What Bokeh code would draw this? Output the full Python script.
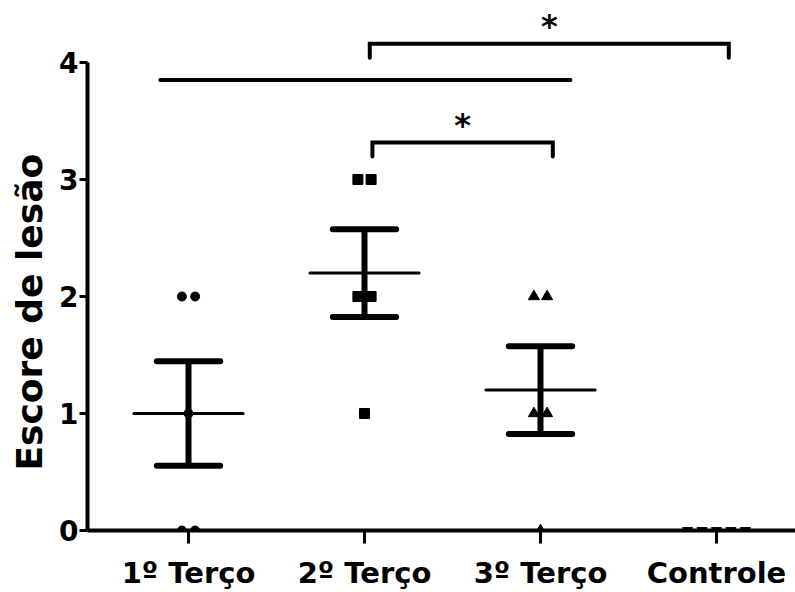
import numpy as np
from bokeh.plotting import figure
from bokeh.models import Range1d, FixedTicker, Title
from bokeh.core.properties import value
from bokeh.embed import file_html
from bokeh.resources import INLINE

# ---- data ----
categories = ["1º Terço", "2º Terço", "3º Terço", "Controle"]
scores_1 = [2, 2, 1, 0, 0]
scores_2 = [3, 3, 2, 2, 1]
scores_3 = [2, 2, 1, 1, 0]
scores_ctrl = [0, 0, 0, 0, 0]
groups = [scores_1, scores_2, scores_3, scores_ctrl]
markers = ["circle", "square", "triangle", "inverted_triangle"]
marker_sizes = [9, 10, 11, 10]
y_title = "Escore de lesão"

# significance annotations (category units / score units)
plain_line_x = [-0.16, 2.17]
plain_line_y = 3.85
brackets_x0 = [1.03, 1.045]
brackets_x1 = [3.07, 2.07]
brackets_top = [4.16, 3.316]
brackets_leg = [4.04, 3.197]
brackets_text = ["*", "*"]

FONT = "DejaVu Sans"

p = figure(width=795, height=592,
           x_range=Range1d(-0.574, 3.449), y_range=Range1d(0, 4.53),
           output_backend="svg", toolbar_location=None,
           min_border_left=87, min_border_right=0, min_border_top=0,
           min_border_bottom=62)
p.outline_line_color = None
p.grid.grid_line_color = None
p.background_fill_color = "white"

# x axis
xa = p.xaxis[0]
xa.ticker = FixedTicker(ticks=list(range(len(categories))))
xa.major_label_overrides = {i: c for i, c in enumerate(categories)}
xa.minor_tick_line_color = None
xa.axis_line_width = 4
xa.axis_line_color = "black"
xa.major_tick_line_width = 3
xa.major_tick_line_color = "black"
xa.major_tick_out = 13
xa.major_tick_in = 0
xa.major_label_standoff = 12
xa.major_label_text_font = FONT
xa.major_label_text_font_size = "29px"
xa.major_label_text_font_style = "bold"
xa.major_label_text_color = "black"

# y axis
ya = p.yaxis[0]
ya.ticker = FixedTicker(ticks=[0, 1, 2, 3, 4])
ya.bounds = (0, 4)
ya.minor_tick_line_color = None
ya.axis_line_width = 4
ya.axis_line_color = "black"
ya.major_tick_line_width = 3
ya.major_tick_line_color = "black"
ya.major_tick_out = 8
ya.major_tick_in = 0
ya.major_label_standoff = 1
ya.major_label_text_font = FONT
ya.major_label_text_font_size = "28px"
ya.major_label_text_font_style = "bold"
ya.major_label_text_color = "black"

# y-axis title as a side title, starting a little above the x axis
p.add_layout(Title(text=y_title, align="left", offset=60,
                   vertical_align="top", standoff=10,
                   text_font=FONT, text_font_size="36px",
                   text_font_style="bold", text_color="black"), "left")

# ---- mean ± SEM ----
xs = np.arange(len(groups), dtype=float)
means = np.array([np.mean(g) for g in groups])
sems = np.array([np.std(g, ddof=1) / np.sqrt(len(g)) for g in groups])
mean_hw = 0.31
cap_hw = 0.18

p.segment(x0=xs - mean_hw, x1=xs + mean_hw, y0=means, y1=means,
          line_color="black", line_width=3, line_cap="round")
has_err = sems > 0
ex, lo, hi = xs[has_err], (means - sems)[has_err], (means + sems)[has_err]
p.segment(x0=ex, x1=ex, y0=lo, y1=hi, line_color="black", line_width=6)
p.segment(x0=ex - cap_hw, x1=ex + cap_hw, y0=lo, y1=lo,
          line_color="black", line_width=6, line_cap="round")
p.segment(x0=ex - cap_hw, x1=ex + cap_hw, y0=hi, y1=hi,
          line_color="black", line_width=6, line_cap="round")

# ---- individual points (dodged when equal) ----
step = 0.075
for i, g in enumerate(groups):
    px, py = [], []
    vals = np.array(g)
    for v in sorted(set(g), reverse=True):
        k = int(np.sum(vals == v))
        offs = (np.arange(k) - (k - 1) / 2) * (step if k < 5 else 0.082)
        px += list(i + offs)
        py += [v] * k
    p.scatter(x=px, y=py, marker=markers[i], size=marker_sizes[i],
              fill_color="black", line_color="black")

# ---- significance marks ----
p.line(x=plain_line_x, y=[plain_line_y] * 2, line_color="black",
       line_width=4, line_cap="round")
for x0, x1, top, leg, t in zip(brackets_x0, brackets_x1, brackets_top,
                               brackets_leg, brackets_text):
    p.line(x=[x0, x0, x1, x1], y=[leg, top, top, leg], line_color="black",
           line_width=4, line_cap="round", line_join="miter")
    p.text(x=[(x0 + x1) / 2], y=[top + 0.15], text=[t],
           text_font=value(FONT), text_font_style="bold",
           text_font_size="32px", text_align="center",
           text_baseline="alphabetic", text_color="black")

open("out.html", "w").write(file_html(p, INLINE))
